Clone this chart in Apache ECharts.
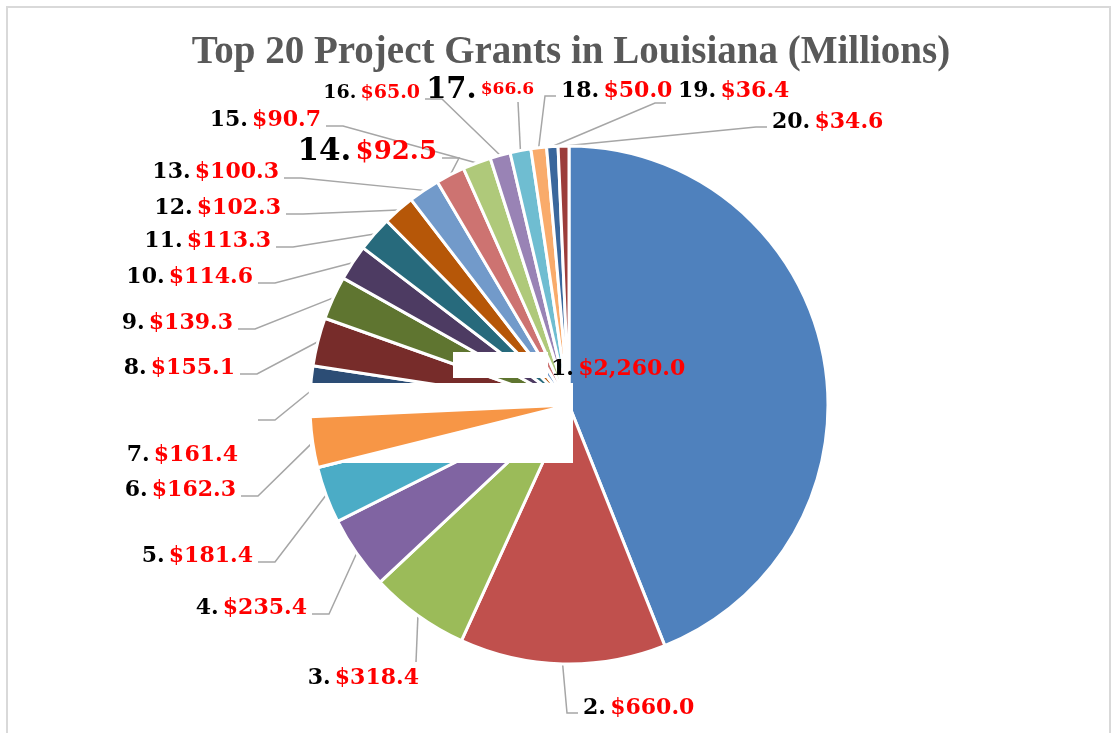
<!DOCTYPE html>
<html>
<head>
<meta charset="utf-8">
<title>Top 20 Project Grants in Louisiana</title>
<script src="https://cdn.jsdelivr.net/npm/echarts@6/dist/echarts.min.js"></script>
<style>
  html, body { margin: 0; padding: 0; background: #fff; }
  #chart { width: 1120px; height: 733px; }
</style>
</head>
<body>
<div id="chart"></div>
<script>
// data
const ranks = [1, 2, 3, 4, 5, 6, 7, 8, 9, 10, 11, 12, 13, 14, 15, 16, 17, 18, 19, 20];
const grants = [2260.0, 660.0, 318.4, 235.4, 181.4, 162.3, 161.4, 155.1, 139.3, 114.6,
                113.3, 102.3, 100.3, 92.5, 90.7, 65.0, 66.6, 50.0, 36.4, 34.6];

// office palette
const colors = ['#4F81BD', '#C0504D', '#9BBB59', '#8064A2', '#4BACC6', '#F79646',
                '#2C4D75', '#772C2A', '#5F7530', '#4D3B62', '#276A7C', '#B65708',
                '#729ACA', '#CD7371', '#AFC97A', '#9983B5', '#6FBDD1', '#F9AB6B',
                '#3A679C', '#9C3D3A'];

// where each label sits: [x, y, side, lineEndOffset?]
// l = text left of line, r = right, b = below, a = above, n = no line
const spots = [
  [551, 369, 'n'], [583, 708, 'r'], [419, 678, 'b'], [307, 608, 'l'], [253, 556, 'l'],
  [236, 490, 'l'], [238, 455, 'l', [20, -35]], [235, 368, 'l'], [233, 323, 'l'], [253, 277, 'l'],
  [271, 241, 'l'], [281, 208, 'l'], [279, 172, 'l'], [437, 152, 'l'], [321, 120, 'l'],
  [420, 93, 'l'], [534, 90, 'a'], [561, 91, 'r'], [678, 91, 'r', [-12, 12]], [772, 122, 'r']
];

const money = (v) => '$' + v.toLocaleString('en-US', { minimumFractionDigits: 1, maximumFractionDigits: 1 });

const chart = echarts.init(document.getElementById('chart'));

const titleFont = '"Liberation Serif", "Times New Roman", serif';
const font = '"DejaVu Serif", serif';
const CENTER = [569, 405];
const R = 259;

const txt = (size, color) => ({ fontFamily: font, fontWeight: 'bold', fontSize: size, color });

const option = {
  backgroundColor: '#fff',
  title: {
    text: 'Top 20 Project Grants in Louisiana (Millions)',
    left: 566,
    top: 28,
    textAlign: 'center',
    textStyle: { fontFamily: titleFont, fontWeight: 'bold', fontSize: 39, color: '#595959' }
  },
  color: colors,
  graphic: [
    {
      type: 'rect',
      shape: { x: 7, y: 7, width: 1103, height: 740 },
      style: { fill: 'none', stroke: '#D9D9D9', lineWidth: 2 },
      silent: true
    },
    // white label boxes that sit on top of the pie in the original
    {
      type: 'rect', z: 100,
      shape: { x: 453, y: 352, width: 95, height: 26 },
      style: { fill: '#fff' }, silent: true
    },
    {
      type: 'rect', z: 100,
      shape: { x: 310, y: 383, width: 263, height: 80 },
      style: { fill: '#fff' }, silent: true
    }
  ],
  series: [
    {
      type: 'pie',
      center: CENTER,
      radius: R,
      startAngle: 90,
      clockwise: true,
      avoidLabelOverlap: false,
      itemStyle: { borderColor: '#fff', borderWidth: 3 },
      data: grants.map((v, i) => ({
        name: String(ranks[i]),
        value: v,
        labelLine: { show: spots[i][2] !== 'n' }
      })),
      label: {
        show: true,
        position: 'outside',
        fontFamily: font,
        fontWeight: 'bold',
        formatter: (p) => {
          const i = p.dataIndex;
          const r = ranks[i] + '.';
          const m = money(grants[i]);
          if (ranks[i] === 14) return '{nb|' + r + '} {vb|' + m + '}';
          if (ranks[i] === 16) return '{ns|' + r + '} {vs|' + m + '}';
          if (ranks[i] === 17) return '{nh|' + r + '} {vt|' + m + '}';
          return '{n|' + r + '} {v|' + m + '}';
        },
        rich: {
          n: txt(22, '#000'), v: txt(22, '#FF0000'),
          nb: txt(31, '#000'), vb: txt(26, '#FF0000'),
          ns: txt(19, '#000'), vs: txt(19, '#FF0000'),
          nh: txt(29, '#000'), vt: txt(17, '#FF0000')
        }
      },
      labelLine: {
        show: true,
        length: 20,
        length2: 15,
        lineStyle: { color: '#A6A6A6', width: 1.5 }
      },
      labelLayout: (p) => {
        const [x, y, side, off] = spots[p.dataIndex];
        const out = { x, y, verticalAlign: 'middle', align: (side === 'r' || side === 'n') ? 'left' : 'right' };
        const pts = p.labelLinePoints;
        if (!pts || side === 'n') return out;
        let end, elbow;
        if (side === 'l') {
          end = off ? [x + off[0], y + off[1]] : [x + 5, y + 6];
          elbow = [end[0] + 17, end[1]];
        } else if (side === 'r') {
          end = off ? [x + off[0], y + off[1]] : [x - 5, y + 5];
          elbow = [end[0] - 11, end[1]];
        } else if (side === 'b') {
          end = [x - 3, y - 16]; elbow = end;
        } else {
          end = [x - 16, y + 12]; elbow = end;
        }
        out.labelLinePoints = [pts[0], elbow, end];
        return out;
      }
    },
    {
      // the orange slice sits in front of the big white box
      type: 'pie',
      center: CENTER,
      radius: R,
      startAngle: 90,
      clockwise: true,
      silent: true,
      z: 101,
      label: { show: false },
      labelLine: { show: false },
      data: grants.map((v, i) => ({
        value: v,
        itemStyle: i === 5
          ? { color: colors[5], borderColor: '#fff', borderWidth: 3 }
          : { color: 'rgba(0,0,0,0)', borderWidth: 0 }
      }))
    }
  ]
};

chart.setOption(option);
</script>
</body>
</html>
